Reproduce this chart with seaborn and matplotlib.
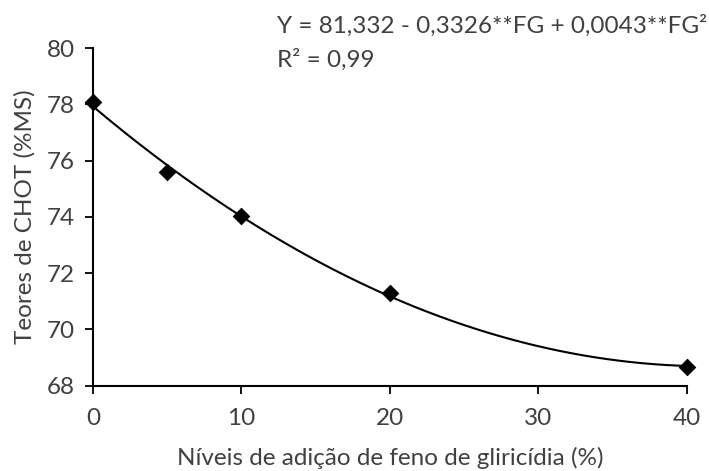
import numpy as np
import pandas as pd
import matplotlib
matplotlib.use('Agg')
import matplotlib.pyplot as plt
import seaborn as sns

# data
niveis = [0, 5, 10, 20, 40]
chot = [78.09, 75.59, 74.02, 71.28, 68.68]

x_ticks = [0, 10, 20, 30, 40]
y_ticks = [68, 70, 72, 74, 76, 78, 80]

equacao = 'Y = 81,332 - 0,3326**FG + 0,0043**FG²'
r2 = 'R² = 0,99'

sns.set_style('white')
plt.rcParams['font.family'] = ['Lato', 'DejaVu Sans']
txt = '#404040'
fs = 17.5

df = pd.DataFrame({'FG': niveis, 'CHOT': chot})

# polynomial trendline fitted to the points
coef = np.polyfit(df['FG'], df['CHOT'], 2)
xs = np.linspace(0, 40, 200)
curve = pd.DataFrame({'FG': xs, 'CHOT': np.polyval(coef, xs)})

fig = plt.figure(figsize=(7.09, 4.71), dpi=100)
ax = fig.add_axes([0.131, 0.181, 0.838, 0.717])

sns.lineplot(data=curve, x='FG', y='CHOT', ax=ax, color='black', linewidth=1.5)
sns.scatterplot(data=df, x='FG', y='CHOT', ax=ax, marker='D', s=70,
                color='black', edgecolor='black', zorder=3, clip_on=False)

ax.set_xlim(0, 40)
ax.set_ylim(68, 80)
ax.set_xticks(x_ticks)
ax.set_yticks(y_ticks)
ax.tick_params(axis='both', direction='out', length=6, width=1.3,
               color='black', labelsize=fs, labelcolor=txt, pad=7, bottom=True, left=True)
ax.tick_params(axis='x', pad=10)

for side in ['top', 'right']:
    ax.spines[side].set_visible(False)
for side in ['left', 'bottom']:
    ax.spines[side].set_color('black')
    ax.spines[side].set_linewidth(1.5)

ax.set_xlabel('Níveis de adição de feno de gliricídia (%)', fontsize=fs, color=txt, labelpad=13)
ax.set_ylabel('Teores de CHOT (%MS)', fontsize=fs, color=txt, labelpad=8)

fig.text(0.39, 0.93, equacao, fontsize=fs, color=txt, ha='left', va='baseline')
fig.text(0.39, 0.858, r2, fontsize=fs, color=txt, ha='left', va='baseline')

fig.savefig('out.png', dpi=100)
